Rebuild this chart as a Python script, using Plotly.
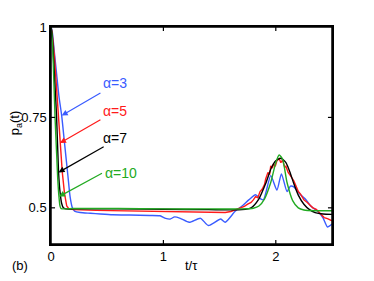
import plotly.graph_objects as go

# ---- data ----
t_a3 = [0, 0.01, 0.03, 0.05, 0.07, 0.095, 0.12, 0.15, 0.17, 0.19, 0.21, 0.26, 0.35, 0.44, 0.55, 0.7, 0.88,
        0.97, 1.02, 1.06, 1.1, 1.15, 1.23, 1.33, 1.40, 1.51, 1.55, 1.64, 1.70, 1.76, 1.82, 1.86, 1.89,
        1.955, 2.01, 2.05, 2.10, 2.13, 2.16, 2.22, 2.27, 2.31, 2.37, 2.42, 2.46, 2.5]
p_a3 = [1, 0.99, 0.93, 0.87, 0.81, 0.755, 0.68, 0.59, 0.53, 0.50, 0.491, 0.487, 0.485, 0.483, 0.481, 0.480, 0.479,
        0.478, 0.471, 0.469, 0.475, 0.471, 0.460, 0.471, 0.451, 0.469, 0.460, 0.491, 0.505, 0.522, 0.536, 0.526, 0.522,
        0.589, 0.549, 0.594, 0.545, 0.560, 0.558, 0.536, 0.522, 0.505, 0.491, 0.472, 0.447, 0.455]

t_a5 = [0, 0.01, 0.03, 0.05, 0.065, 0.08, 0.1, 0.12, 0.14, 0.16, 0.2, 0.4, 0.7, 1.0, 1.3, 1.45, 1.55,
        1.6, 1.63, 1.66, 1.69, 1.72, 1.75, 1.78, 1.80, 1.82, 1.84, 1.86, 1.88, 1.90, 1.91, 1.93, 1.945,
        1.955, 1.97, 1.98, 1.995, 2.01, 2.03, 2.045, 2.06, 2.08, 2.09, 2.11, 2.13, 2.15, 2.16, 2.18,
        2.2, 2.22, 2.25, 2.28, 2.3, 2.33, 2.36, 2.39, 2.43, 2.46, 2.5]
p_a5 = [1, 0.985, 0.92, 0.83, 0.75, 0.68, 0.6, 0.54, 0.505, 0.497, 0.495, 0.493, 0.491, 0.490, 0.489, 0.488, 0.487,
        0.490, 0.493, 0.497, 0.500, 0.504, 0.510, 0.515, 0.522, 0.531, 0.528, 0.545, 0.552, 0.565, 0.580, 0.598, 0.592,
        0.616, 0.610, 0.622, 0.615, 0.630, 0.636, 0.625, 0.632, 0.612, 0.615, 0.598, 0.589, 0.580, 0.575, 0.560,
        0.545, 0.538, 0.522, 0.515, 0.510, 0.500, 0.496, 0.485, 0.473, 0.470, 0.464]

t_a7 = [0, 0.01, 0.02, 0.035, 0.05, 0.067, 0.08, 0.095, 0.11, 0.13, 0.2, 0.6, 1.0, 1.4, 1.7, 1.78, 1.85,
        1.91, 1.96, 2.0, 2.045, 2.09, 2.13, 2.16, 2.2, 2.25, 2.3, 2.35, 2.42, 2.5]
p_a7 = [1, 0.98, 0.93, 0.84, 0.75, 0.60, 0.545, 0.512, 0.50, 0.497, 0.497, 0.497, 0.496, 0.495, 0.495, 0.50, 0.525,
        0.567, 0.61, 0.63, 0.637, 0.625, 0.595, 0.567, 0.535, 0.51, 0.495, 0.487, 0.483, 0.482]

t_a10 = [0, 0.01, 0.02, 0.036, 0.05, 0.06, 0.071, 0.08, 0.09, 0.2, 0.6, 1.0, 1.4, 1.7, 1.8, 1.85, 1.9,
         1.955, 2.0, 2.03, 2.06, 2.1, 2.15, 2.2, 2.25, 2.35, 2.5]
p_a10 = [1, 0.97, 0.9, 0.75, 0.65, 0.58, 0.53, 0.505, 0.498, 0.498, 0.498, 0.497, 0.497, 0.497, 0.499, 0.505, 0.525,
         0.57, 0.625, 0.646, 0.635, 0.57, 0.52, 0.50, 0.494, 0.492, 0.492]

labels = ["α=3", "α=5", "α=7", "α=10"]
colors = ["#3a5cff", "#ff1a1a", "#000000", "#22aa22"]
# arrow tip / tail and label centres in data units
tips = [(0.0955, 0.755), (0.080, 0.679), (0.067, 0.598), (0.071, 0.531)]
tails = [(0.453, 0.820), (0.453, 0.746), (0.482, 0.671), (0.467, 0.598)]
label_pos = [(0.571, 0.845), (0.571, 0.767), (0.571, 0.692), (0.625, 0.596)]

x_range = [0, 2.5]
y_range = [0.4, 1]
x_ticks = [0, 1, 2]
y_ticks = [0.5, 0.75, 1]
y_ticklabels = ["0.5", "0.75", "1"]

FONT = "Liberation Sans, Arial, sans-serif"

fig = go.Figure()
series = [(t_a3, p_a3, "spline"), (t_a5, p_a5, "linear"), (t_a7, p_a7, "spline"), (t_a10, p_a10, "spline")]
for (tt, pp, shape), c, lab in zip(series, colors, labels):
    fig.add_trace(go.Scatter(x=tt, y=pp, mode="lines", line=dict(color=c, width=1.4, shape=shape, smoothing=0.6),
                             name=lab, showlegend=False, hoverinfo="skip"))

# inside ticks on all four sides, derived from the axis ranges
x0, x1 = x_range
y0, y1 = y_range
tlx = 0.011 * (y1 - y0) / 0.6          # vertical tick length (data units)
tly = 0.036 * (x1 - x0) / 2.5          # horizontal tick length (data units)
fx, fy = [], []
for v in x_ticks:
    if x0 < v < x1:
        fx += [v, v, None, v, v, None]
        fy += [y0, y0 + tlx, None, y1, y1 - tlx, None]
for v in y_ticks:
    if y0 < v < y1:
        fx += [x0, x0 + tly, None, x1, x1 - tly, None]
        fy += [v, v, None, v, v, None]
fig.add_trace(go.Scatter(x=fx, y=fy, mode="lines", line=dict(color="black", width=1.2),
                         showlegend=False, hoverinfo="skip"))

ann = []
for (tx, ty), (ax, ay), (lx, ly), c, lab in zip(tips, tails, label_pos, colors, labels):
    ann.append(dict(x=tx, y=ty, ax=ax, ay=ay, xref="x", yref="y", axref="x", ayref="y", text="",
                    showarrow=True, arrowhead=2, arrowsize=1, arrowwidth=1.2, arrowcolor=c))
    ann.append(dict(x=lx, y=ly, xref="x", yref="y", text=lab, showarrow=False,
                    font=dict(family=FONT, size=14, color=c)))

ann.append(dict(x=-0.125, y=0.56, xref="paper", yref="paper", text="p<sub>a</sub>(t)", textangle=-90,
                xanchor="center", yanchor="middle",
                showarrow=False, font=dict(family=FONT, size=13, color="black")))
ann.append(dict(x=0.5, y=-0.10, xref="paper", yref="paper", text="t/τ", showarrow=False,
                xanchor="center", yanchor="middle",
                font=dict(family=FONT, size=13, color="black")))
ann.append(dict(x=-0.11, y=-0.10, xref="paper", yref="paper", text="(b)", showarrow=False,
                xanchor="center", yanchor="middle",
                font=dict(family=FONT, size=13, color="black")))

axis_common = dict(showline=True, linecolor="black", linewidth=1.5, mirror=True, ticks="",
                   showgrid=False, zeroline=False,
                   tickfont=dict(family=FONT, size=13, color="black"))

fig.update_layout(
    width=366, height=273,
    margin=dict(l=43, r=42, t=12, b=37),
    paper_bgcolor="white", plot_bgcolor="white",
    xaxis=dict(range=x_range, tickvals=x_ticks, **axis_common),
    yaxis=dict(range=y_range, tickvals=y_ticks, ticktext=y_ticklabels, **axis_common),
    annotations=ann,
    shapes=[dict(type="rect", xref="paper", yref="paper", x0=0, y0=0, x1=1, y1=1,
                 line=dict(color="black", width=1.5))],
)

fig.write_html("out.html")
